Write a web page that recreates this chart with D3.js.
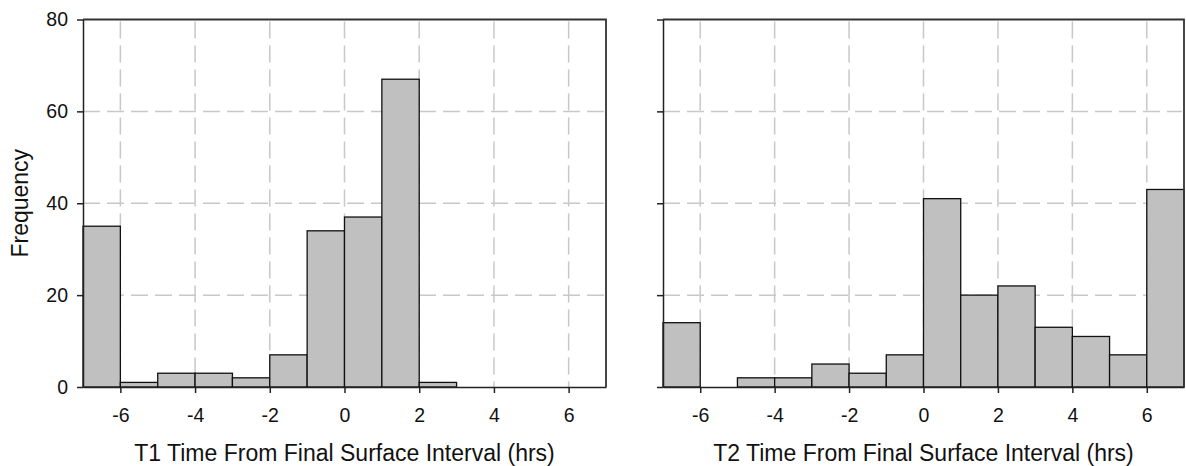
<!DOCTYPE html>
<html>
<head>
<meta charset="utf-8">
<script src="https://cdn.jsdelivr.net/npm/d3@7"></script>
<style>
	body { margin: 0; background: #fff; }
	svg { display: block; font-family: "Liberation Sans", Arial, sans-serif; }
	.grid line { stroke: #c8c8c8; stroke-width: 1.5; stroke-dasharray: 17 7; }
	.axis path, .axis line { stroke: #222; stroke-width: 1.5; }
	.axis text { font-size: 19.5px; fill: #111; }
	.frame { stroke: #333; stroke-width: 1.8; fill: none; }
	.bar { fill: #c0c0c0; stroke: #111; stroke-width: 1.3; }
	.title { font-size: 23px; fill: #111; }
</style>
</head>
<body>
<svg id="chart" width="1186" height="466"></svg>
<script>
/*=================
=== Data
=================*/
const binStarts = [-7, -6, -5, -4, -3, -2, -1, 0, 1, 2, 3, 4, 5, 6];
const t1Counts = [35, 1, 3, 3, 2, 7, 34, 37, 67, 1, 0, 0, 0, 0];
const t2Counts = [14, 0, 2, 2, 5, 3, 7, 41, 20, 22, 13, 11, 7, 43];
const xTicks = [-6, -4, -2, 0, 2, 4, 6];
const yTicks = [0, 20, 40, 60, 80];
const xTitles = ['T1 Time From Final Surface Interval (hrs)', 'T2 Time From Final Surface Interval (hrs)'];

/*=================
=== Layout
=================*/
const plotTop = 19.5;
const plotBottom = 387;
const panels = [
	{ left: 83, right: 606, counts: t1Counts, title: xTitles[0], labels: true },
	{ left: 663, right: 1184, counts: t2Counts, title: xTitles[1], labels: false },
];

const svg = d3.select('#chart');

const yScale = d3.scaleLinear()
	.domain([0, 80])
	.range([plotBottom, plotTop]);

panels.forEach(p => {
	const xScale = d3.scaleLinear()
		.domain([-7, 7])
		.range([p.left, p.right]);

	const g = svg.append('g');

	// dashed grid, behind the bars
	const grid = g.append('g').attr('class', 'grid');
	grid.selectAll('.vline')
		.data(xTicks)
		.enter()
		.append('line')
		.attr('x1', d => xScale(d))
		.attr('x2', d => xScale(d))
		.attr('y1', plotTop + 2)
		.attr('y2', plotBottom);
	grid.selectAll('.hline')
		.data(yTicks.filter(d => d > 0 && d < 80))
		.enter()
		.append('line')
		.attr('x1', p.left)
		.attr('x2', p.right - 2)
		.attr('y1', d => yScale(d))
		.attr('y2', d => yScale(d));

	// histogram bars (skip empty bins)
	const bins = binStarts.map((b, i) => ({ x0: b, x1: b + 1, n: p.counts[i] }))
		.filter(d => d.n > 0);

	g.selectAll('.bar')
		.data(bins)
		.enter()
		.append('rect')
		.attr('class', 'bar')
		.attr('x', d => xScale(d.x0))
		.attr('y', d => yScale(d.n))
		.attr('width', d => xScale(d.x1) - xScale(d.x0))
		.attr('height', d => plotBottom - yScale(d.n));

	// top and right border
	g.append('path')
		.attr('class', 'frame')
		.attr('d', `M${p.left},${plotTop}H${p.right}V${plotBottom}`);

	// axes
	g.append('g')
		.attr('class', 'axis axis-x')
		.attr('transform', `translate(0, ${plotBottom})`)
		.call(d3.axisBottom(xScale).tickValues(xTicks).tickSize(6).tickSizeOuter(0).tickPadding(15)
			.tickFormat(d => d < 0 ? '-' + Math.abs(d) : d));

	g.append('g')
		.attr('class', 'axis axis-y')
		.attr('transform', `translate(${p.left}, 0)`)
		.call(d3.axisLeft(yScale).tickValues(yTicks).tickSize(6).tickSizeOuter(0).tickPadding(9)
			.tickFormat(d => p.labels ? d : ''));

	// x title
	g.append('text')
		.attr('class', 'title')
		.attr('x', (p.left + p.right) / 2)
		.attr('y', 461)
		.attr('text-anchor', 'middle')
		.text(p.title);
});

// y title
svg.append('text')
	.attr('class', 'title')
	.attr('transform', `translate(28, ${(plotTop + plotBottom) / 2}) rotate(-90)`)
	.attr('text-anchor', 'middle')
	.text('Frequency');
</script>
</body>
</html>
